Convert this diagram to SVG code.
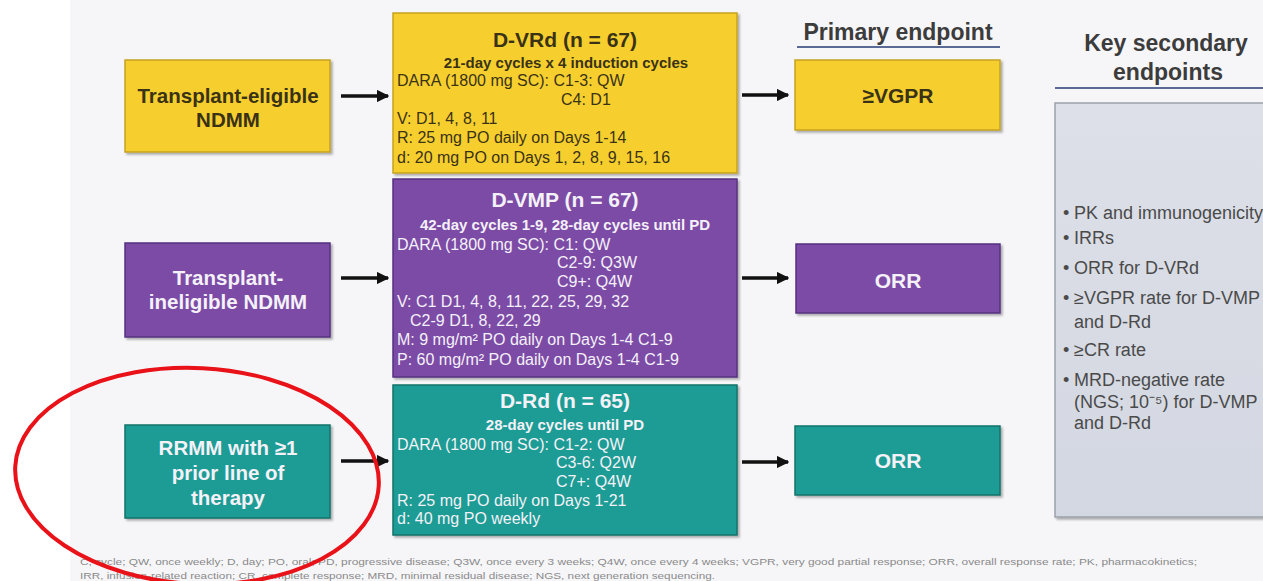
<svg xmlns="http://www.w3.org/2000/svg" width="1263" height="581" viewBox="0 0 1263 581">
<defs>
<style>
.sans{font-family:"Liberation Sans",Arial,sans-serif}
.lbl{font-family:"Liberation Sans",Arial,sans-serif;font-weight:bold;font-size:20.5px;text-anchor:middle}
.hdr{font-family:"Liberation Sans",Arial,sans-serif;font-weight:bold;font-size:21px;text-anchor:middle}
.sub{font-family:"Liberation Sans",Arial,sans-serif;font-weight:bold;font-size:15px;text-anchor:middle}
.body{font-family:"Liberation Sans",Arial,sans-serif;font-size:16px}
.dark{fill:#3a3216}
.light{fill:#f4f1f8}
.yel{fill:#f6cf2f;stroke:#c6a222;stroke-width:1.5}
.pur{fill:#7b4ba6;stroke:#553181;stroke-width:1.5}
.tea{fill:#1d9c94;stroke:#127369;stroke-width:1.5}
.title{font-family:"Liberation Sans",Arial,sans-serif;font-weight:bold;font-size:23px;fill:#3c3c3c;text-anchor:middle}
.bul{font-family:"Liberation Sans",Arial,sans-serif;font-size:18px;fill:#4a4a4a}
.foot{font-family:"Liberation Sans",Arial,sans-serif;font-size:9.5px;fill:#8a8a8a}
.conn{stroke:#111;stroke-width:3.5;fill:none}
</style>
<filter id="sh" x="-5%" y="-5%" width="112%" height="115%">
<feDropShadow dx="2" dy="2" stdDeviation="1.2" flood-color="#000" flood-opacity="0.3"/>
</filter>
<marker id="ah" viewBox="0 0 10 10" refX="9" refY="5" markerWidth="3.6" markerHeight="3.6" orient="auto" markerUnits="strokeWidth">
<path d="M0,0 L10,5 L0,10 z" fill="#111"/>
</marker>
<linearGradient id="kg" x1="0" y1="0" x2="0" y2="1">
<stop offset="0" stop-color="#dde0e8"/>
<stop offset="1" stop-color="#d3d7e1"/>
</linearGradient>
</defs>
<rect x="0" y="0" width="1263" height="581" fill="#ffffff"/>
<rect x="70" y="0" width="1193" height="581" fill="#f6f6f9"/>

<text class="title" x="898" y="40">Primary endpoint</text>
<line x1="797" y1="47" x2="1000" y2="47" stroke="#5a6a96" stroke-width="2"/>
<text class="title" x="1166" y="51" font-size="24">Key secondary</text>
<text class="title" x="1168" y="80" font-size="24">endpoints</text>
<line x1="1055" y1="88" x2="1263" y2="88" stroke="#5a6a96" stroke-width="2"/>

<g id="pop-te">
<rect class="yel" x="125" y="60" width="205" height="92" filter="url(#sh)"/>
<text class="lbl dark" x="228" y="103">Transplant-eligible</text>
<text class="lbl dark" x="228" y="127">NDMM</text>
</g>
<g id="pop-ti">
<rect class="pur" x="125" y="243" width="205" height="94" filter="url(#sh)"/>
<text class="lbl light" x="228" y="285">Transplant-</text>
<text class="lbl light" x="228" y="309">ineligible NDMM</text>
</g>
<g id="pop-rr">
<rect class="tea" x="125" y="425" width="205" height="93" filter="url(#sh)"/>
<text class="lbl light" x="228" y="455">RRMM with ≥1</text>
<text class="lbl light" x="228" y="480">prior line of</text>
<text class="lbl light" x="228" y="505">therapy</text>
</g>

<g id="arm-dvrd">
<rect class="yel" x="393" y="13" width="344" height="160" filter="url(#sh)"/>
<text class="hdr dark" x="565" y="47">D-VRd (n = 67)</text>
<text class="sub dark" x="566" y="68">21-day cycles x 4 induction cycles</text>
<g class="body dark">
<text x="397" y="86">DARA (1800 mg SC): C1-3: QW</text>
<text x="561" y="105">C4: D1</text>
<text x="397" y="124">V: D1, 4, 8, 11</text>
<text x="397" y="143">R: 25 mg PO daily on Days 1-14</text>
<text x="397" y="163">d: 20 mg PO on Days 1, 2, 8, 9, 15, 16</text>
</g>
</g>
<g id="arm-dvmp">
<rect class="pur" x="393" y="179" width="344" height="198" filter="url(#sh)"/>
<text class="hdr light" x="565" y="207">D-VMP (n = 67)</text>
<text class="sub light" x="565" y="230">42-day cycles 1-9, 28-day cycles until PD</text>
<g class="body light">
<text x="397" y="250">DARA (1800 mg SC): C1: QW</text>
<text x="557" y="268">C2-9: Q3W</text>
<text x="557" y="287">C9+: Q4W</text>
<text x="397" y="307">V: C1 D1, 4, 8, 11, 22, 25, 29, 32</text>
<text x="410" y="326">C2-9 D1, 8, 22, 29</text>
<text x="397" y="345">M: 9 mg/m² PO daily on Days 1-4 C1-9</text>
<text x="397" y="365">P: 60 mg/m² PO daily on Days 1-4 C1-9</text>
</g>
</g>
<g id="arm-drd">
<rect class="tea" x="393" y="385" width="344" height="150" filter="url(#sh)"/>
<text class="hdr light" x="565" y="408">D-Rd (n = 65)</text>
<text class="sub light" x="565" y="430">28-day cycles until PD</text>
<g class="body light">
<text x="397" y="450">DARA (1800 mg SC): C1-2: QW</text>
<text x="556" y="468">C3-6: Q2W</text>
<text x="556" y="487">C7+: Q4W</text>
<text x="397" y="506">R: 25 mg PO daily on Days 1-21</text>
<text x="397" y="524">d: 40 mg PO weekly</text>
</g>
</g>

<g id="ep-vgpr">
<rect class="yel" x="795" y="60" width="205" height="70" filter="url(#sh)"/>
<text class="hdr dark" x="898" y="103">≥VGPR</text>
</g>
<g id="ep-orr1">
<rect class="pur" x="796" y="244" width="204" height="69" filter="url(#sh)"/>
<text class="hdr light" x="898" y="288">ORR</text>
</g>
<g id="ep-orr2">
<rect class="tea" x="795" y="426" width="205" height="69" filter="url(#sh)"/>
<text class="hdr light" x="898" y="468">ORR</text>
</g>

<g id="secondary">
<rect x="1055" y="103" width="215" height="414" fill="url(#kg)" stroke="#9ca1ab" stroke-width="1.5" filter="url(#sh)"/>
<g class="bul">
<text x="1063" y="219">•</text><text x="1074" y="219">PK and immunogenicity</text>
<text x="1063" y="244">•</text><text x="1074" y="244">IRRs</text>
<text x="1063" y="274">•</text><text x="1074" y="274">ORR for D-VRd</text>
<text x="1063" y="304">•</text><text x="1074" y="304">≥VGPR rate for D-VMP</text>
<text x="1074" y="328">and D-Rd</text>
<text x="1063" y="356">•</text><text x="1074" y="356">≥CR rate</text>
<text x="1063" y="386">•</text><text x="1074" y="386">MRD-negative rate</text>
<text x="1074" y="408">(NGS; 10⁻⁵) for D-VMP</text>
<text x="1074" y="429">and D-Rd</text>
</g>
</g>

<g id="connectors">
<line class="conn" x1="341" y1="96" x2="388" y2="96" marker-end="url(#ah)"/>
<line class="conn" x1="341" y1="278" x2="388" y2="278" marker-end="url(#ah)"/>
<line class="conn" x1="341" y1="461" x2="388" y2="461" marker-end="url(#ah)"/>
<line class="conn" x1="742" y1="95" x2="788" y2="95" marker-end="url(#ah)"/>
<line class="conn" x1="742" y1="278" x2="788" y2="278" marker-end="url(#ah)"/>
<line class="conn" x1="742" y1="462" x2="788" y2="462" marker-end="url(#ah)"/>
</g>

<text class="foot" x="80" y="565" textLength="1117" lengthAdjust="spacingAndGlyphs">C, cycle; QW, once weekly; D, day; PO, oral; PD, progressive disease; Q3W, once every 3 weeks; Q4W, once every 4 weeks; VGPR, very good partial response; ORR, overall response rate; PK, pharmacokinetics;</text>
<text class="foot" x="80" y="579" textLength="635" lengthAdjust="spacingAndGlyphs">IRR, infusion-related reaction; CR, complete response; MRD, minimal residual disease; NGS, next generation sequencing.</text>

<ellipse cx="197" cy="476" rx="182" ry="108" fill="none" stroke="#e81218" stroke-width="4" transform="rotate(3 197 476)"/>
</svg>
